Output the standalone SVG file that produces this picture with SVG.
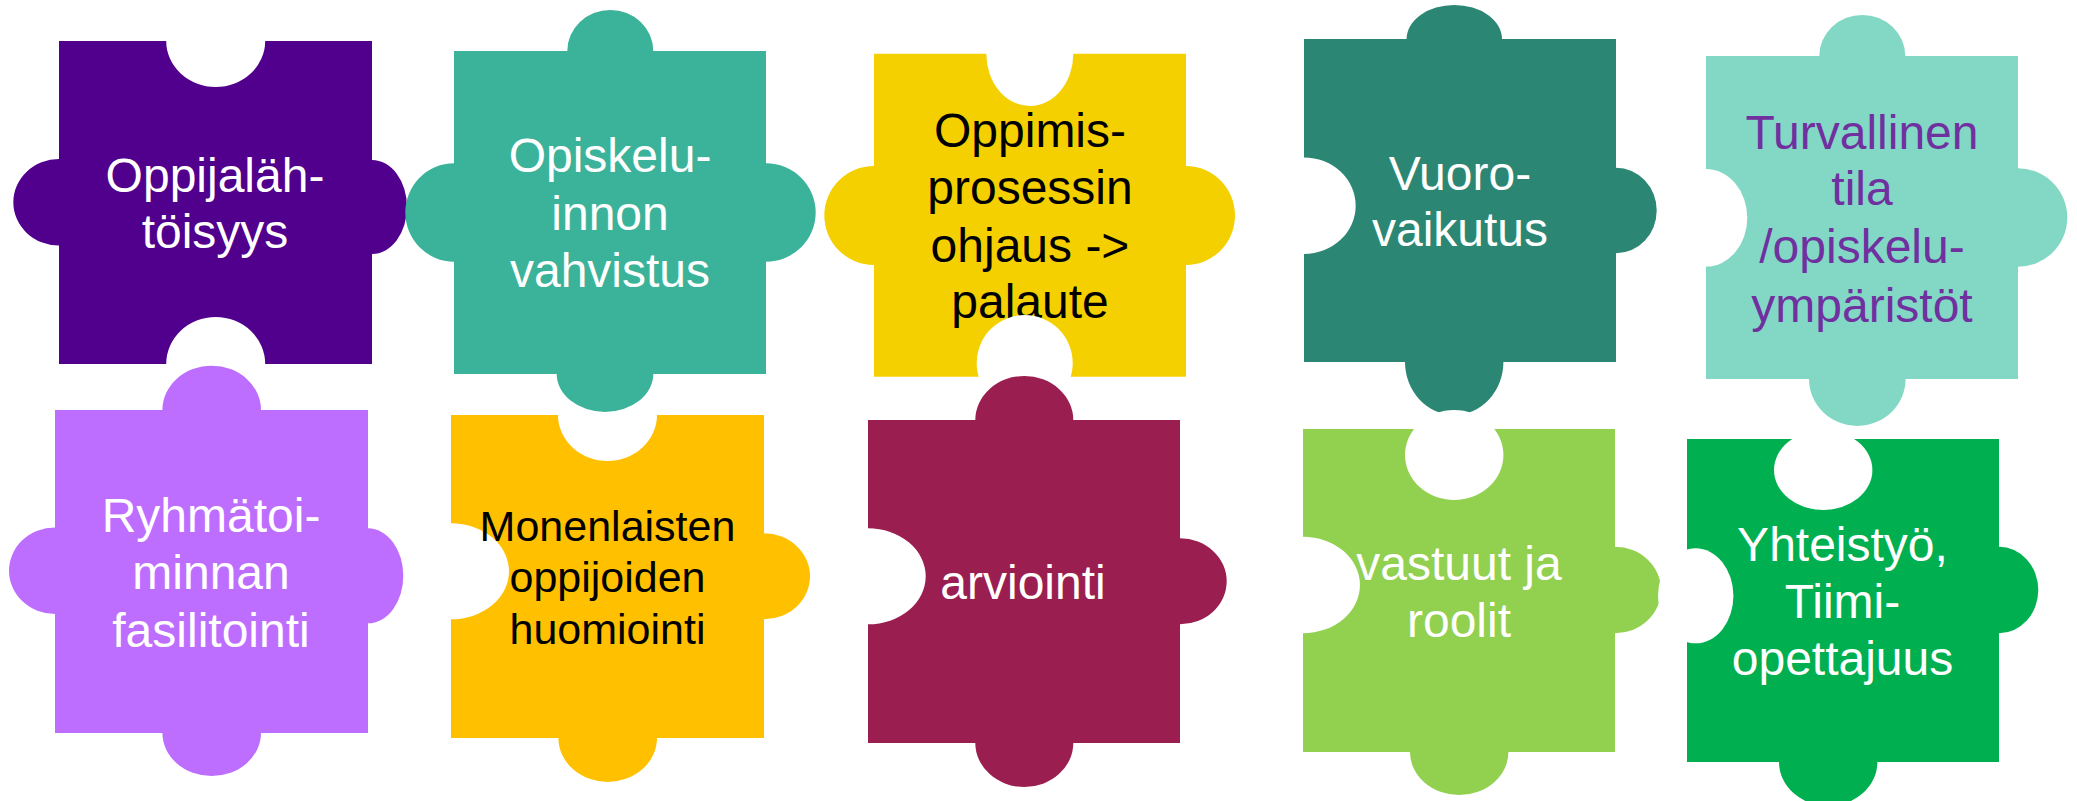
<svg xmlns="http://www.w3.org/2000/svg" width="2077" height="801" viewBox="0 0 2077 801">
<style>
text{font-family:"Liberation Sans",Arial,sans-serif;font-size:48px;text-anchor:middle}
.w{fill:#FFFFFF}.k{fill:#000000}.p{fill:#7030A0}
.hole{fill:#FFFFFF}
</style>
<rect x="0" y="0" width="2077" height="801" fill="#FFFFFF"/>
<g id="connectors"></g>
<g id="p1">
<path fill="#50008C" d="M59,41 L166.2,41 A49.5 46 0 0 0 265.2,41 L372,41 L372,160 A35 47 0 0 1 372,254 L372,364 L265.2,364 A49.5 47 0 0 0 166.2,364 L59,364 L59,245.6 A45.7 43.3 0 0 1 59,159 Z"/>
<text class="w" x="215" y="191.7">Oppijaläh-</text>
<text class="w" x="215" y="248.3">töisyys</text>
</g>
<g id="p2">
<path fill="#3BB39A" d="M454,51 L567.3,51 A43 41 0 0 1 653.3,51 L766,51 L766,163.3 A49.7 49.2 0 0 1 766,261.7 L766,374 L653.3,374 A48.3 38 0 0 1 556.7,374 L454,374 L454,261.7 A48.7 49.2 0 0 1 454,163.3 Z"/>
<text class="w" x="610" y="172.3">Opiskelu-</text>
<text class="w" x="610" y="230">innon</text>
<text class="w" x="610" y="286.7">vahvistus</text>
</g>
<g id="p3">
<path fill="#F5D000" d="M874,53.7 L986.3,53.7 A43.5 52.3 0 0 0 1073.3,53.7 L1186,53.7 L1186,166 A49 49.5 0 0 1 1186,265 L1186,376.7 L874,376.7 L874,265 A49.7 49.5 0 0 1 874,166 Z"/>
<text class="k" x="1030" y="146.7">Oppimis-</text>
<text class="k" x="1030" y="204">prosessin</text>
<text class="k" x="1030" y="261.7">ohjaus -&gt;</text>
<text class="k" x="1030" y="318.3">palaute</text>
<circle class="hole" cx="1024.7" cy="363" r="48"/>
</g>
<g id="p4">
<path fill="#2B8674" d="M1304,39 L1406.6,39 A47.7 34 0 0 1 1502,39 L1616,39 L1616,167.7 A40.7 42.8 0 0 1 1616,253.3 L1616,362 L1503.4,362 A49.2 53 0 0 1 1405,362 L1304,362 L1304,254 A51.7 48.3 0 0 0 1304,157.4 Z"/>
<text class="w" x="1460" y="190">Vuoro-</text>
<text class="w" x="1460" y="246">vaikutus</text>
</g>
<g id="p5">
<path fill="#82D8C4" d="M1706,56 L1819.3,56 A43 41 0 0 1 1905.3,56 L2018,56 L2018,168.3 A49.3 49.2 0 0 1 2018,266.7 L2018,379 L1905.6,379 A48.3 47 0 0 1 1809,379 L1706,379 L1706,266.6 A41.3 48.8 0 0 0 1706,169 Z"/>
<text class="p" x="1862" y="149">Turvallinen</text>
<text class="p" x="1862" y="205">tila</text>
<text class="p" x="1862" y="263.3">/opiskelu-</text>
<text class="p" x="1862" y="321.7">ympäristöt</text>
</g>
<g id="p6">
<path fill="#BE6EFF" d="M55,410 L162.4,410 A49.3 44.3 0 0 1 261,410 L368,410 L368,528.3 A35.3 47.5 0 0 1 368,623.3 L368,733 L261,733 A49.3 43 0 0 1 162.4,733 L55,733 L55,614 A46 43.3 0 0 1 55,527.4 Z"/>
<text class="w" x="211" y="532.3">Ryhmätoi-</text>
<text class="w" x="211" y="589">minnan</text>
<text class="w" x="211" y="646.7">fasilitointi</text>
</g>
<g id="p7">
<path fill="#FFC000" d="M451,415 L558,415 A49.5 46 0 0 0 657,415 L764,415 L764,533.3 A46 43 0 0 1 764,619.3 L764,738 L657,738 A49.3 44 0 0 1 558.4,738 L451,738 L451,619.3 A58 48 0 0 0 451,523.3 Z"/>
<text class="k" x="607.5" y="541" style="font-size:43px">Monenlaisten</text>
<text class="k" x="607.5" y="592.3" style="font-size:43px">oppijoiden</text>
<text class="k" x="607.5" y="644" style="font-size:43px">huomiointi</text>
</g>
<g id="p8">
<path fill="#9B1E50" d="M868,420 L975.3,420 A49 44 0 0 1 1073.3,420 L1180,420 L1180,538.3 A46.7 43 0 0 1 1180,624.3 L1180,743 L1073.3,743 A49 44 0 0 1 975.3,743 L868,743 L868,624.3 A57.7 48 0 0 0 868,528.3 Z"/>
<text class="w" x="1023" y="599.3">arviointi</text>
</g>
<g id="p9">
<path fill="#92D050" d="M1303,429 L1615,429 L1615,546.7 A46 43.3 0 0 1 1615,633.3 L1615,752 L1508.4,752 A49.2 43 0 0 1 1410,752 L1303,752 L1303,633.3 A57 48.3 0 0 0 1303,536.7 Z"/>
<ellipse class="hole" cx="1454.2" cy="455" rx="49.2" ry="45"/>
<text class="w" x="1459" y="580">vastuut ja</text>
<text class="w" x="1459" y="636.7">roolit</text>
</g>
<g id="p10">
<path fill="#00B050" d="M1687,439 L1999,439 L1999,546.7 A39.3 43.3 0 0 1 1999,633.3 L1999,762 L1877.4,762 A49.2 44 0 0 1 1779,762 L1687,762 Z"/>
<ellipse class="hole" cx="1823.2" cy="470" rx="49.2" ry="40"/>
<ellipse class="hole" cx="1695.7" cy="595.8" rx="37.7" ry="47.5"/>
<text class="w" x="1842.5" y="561">Yhteistyö,</text>
<text class="w" x="1842.5" y="618.3">Tiimi-</text>
<text class="w" x="1842.5" y="675">opettajuus</text>
</g>
</svg>
